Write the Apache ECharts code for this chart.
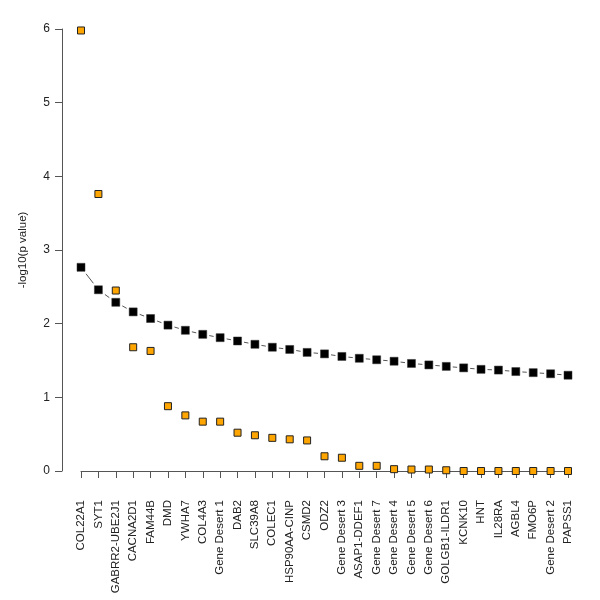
<!DOCTYPE html>
<html><head><meta charset="utf-8">
<script src="https://cdn.jsdelivr.net/npm/echarts@6/dist/echarts.min.js"></script>
<style>html,body{margin:0;padding:0;background:#fff}#c{width:600px;height:600px}</style>
</head><body><div id="c"></div>
<script>
var categories = ["COL22A1","SYT1","GABRR2-UBE2J1","CACNA2D1","FAM44B","DMD","YWHA7","COL4A3","Gene Desert 1","DAB2","SLC39A8","COLEC1","HSP90AA-CINP","CSMD2","ODZ2","Gene Desert 3","ASAP1-DDEF1","Gene Desert 7","Gene Desert 4","Gene Desert 5","Gene Desert 6","GOLGB1-ILDR1","KCNK10","HNT","IL28RA","AGBL4","FMO6P","Gene Desert 2","PAPSS1"];
var blackValues = [2.765,2.46,2.29,2.16,2.07,1.98,1.91,1.855,1.81,1.765,1.72,1.68,1.65,1.61,1.59,1.555,1.53,1.51,1.49,1.46,1.44,1.42,1.40,1.38,1.37,1.35,1.335,1.32,1.30];
var orangeValues = [5.98,3.76,2.45,1.68,1.63,0.88,0.755,0.67,0.67,0.52,0.485,0.45,0.43,0.415,0.20,0.18,0.07,0.07,0.025,0.02,0.02,0.01,0,0,0,0,0,0,0];
var yTicks = [0,1,2,3,4,5,6];

var chart = echarts.init(document.getElementById('c'), null, {renderer:'canvas'});
var font = 'Liberation Sans, Arial, sans-serif';
chart.setOption({
  animation: false,
  grid: {left: 81, right: 32, top: 29, bottom: 129, containLabel: false},
  xAxis: {
    type: 'category', data: categories, boundaryGap: false, offset: 17,
    axisLine: {show: true, lineStyle: {color: '#555', width: 1}},
    axisTick: {show: true, length: 7, interval: 0, lineStyle: {color: '#555'}},
    axisLabel: {interval: 0, rotate: 90, margin: 12, color: '#222', fontSize: 11.5, fontFamily: font},
    splitLine: {show: false}
  },
  yAxis: {
    type: 'value', min: yTicks[0], max: yTicks[yTicks.length-1], interval: 1, offset: 19,
    name: '-log10(p value)', nameLocation: 'middle', nameGap: 33, nameRotate: 90,
    nameTextStyle: {color: '#222', fontSize: 11.5, fontFamily: font},
    axisLine: {show: true, lineStyle: {color: '#555', width: 1}},
    axisTick: {show: true, length: 7, lineStyle: {color: '#555'}},
    axisLabel: {margin: 12, color: '#222', fontSize: 12, fontFamily: font},
    splitLine: {show: false}
  },
  series: [
    {type: 'line', data: blackValues, showSymbol: false, symbol: 'none', z: 1,
     lineStyle: {color: '#555', width: 1}},
    {type: 'scatter', data: blackValues, symbol: 'rect', symbolSize: 13, z: 2,
     itemStyle: {color: '#fff', opacity: 1}},
    {type: 'scatter', data: blackValues, symbol: 'rect', symbolSize: 8, z: 3,
     itemStyle: {color: '#000', borderColor: '#333', borderWidth: 0.5, opacity: 1}},
    {type: 'scatter', data: orangeValues, symbol: 'rect', symbolSize: 7, z: 4,
     itemStyle: {color: '#FFA500', borderColor: '#222', borderWidth: 1, opacity: 1}}
  ]
});
</script></body></html>
